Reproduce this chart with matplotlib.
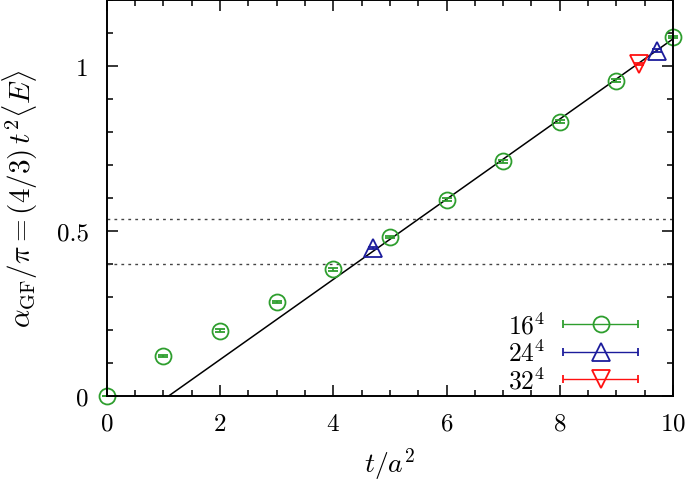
import numpy as np
import matplotlib
matplotlib.use("Agg")
import matplotlib.pyplot as plt
from matplotlib.container import ErrorbarContainer
from matplotlib.legend_handler import HandlerErrorbar

plt.rcParams['font.family'] = 'cmr10'
plt.rcParams['mathtext.fontset'] = 'cm'
plt.rcParams['axes.unicode_minus'] = False
plt.rcParams['axes.formatter.use_mathtext'] = True

# data
t_16 = [0, 1, 2, 3, 4, 5, 6, 7, 8, 9, 10]
a_16 = [0.0, 0.121, 0.198, 0.284, 0.383, 0.481, 0.595, 0.711, 0.831, 0.955, 1.088]
e_16 = [0.0, 0.004, 0.004, 0.004, 0.004, 0.004, 0.004, 0.004, 0.004, 0.004, 0.004]

t_24 = [4.70, 9.72]
a_24 = [0.448, 1.046]
e_24 = [0.004, 0.004]

t_32 = [9.40]
a_32 = [1.006]
e_32 = [0.004]

# straight line and the two dotted levels
line_t0 = 1.095
line_slope = 0.1215
levels = [0.535, 0.40]

green = '#2e9e2e'
blue = '#1c1c9c'
red = '#ff1010'

fig = plt.figure(figsize=(6.85, 4.81), dpi=100)
ax = fig.add_axes([0.156, 0.175, 0.8265, 0.823])

for lv in levels:
    ax.axhline(lv, color='#444444', lw=1.0, ls=(0, (2, 3)))

tl = np.array([line_t0, 10.5])
ax.plot(tl, line_slope * (tl - line_t0), color='black', lw=1.1)

ax.errorbar(t_16, a_16, yerr=e_16, fmt='o', ms=11.5, mfc='none', mec=green, mew=1.3,
            ecolor=green, elinewidth=1.2, capsize=3.5, capthick=1.2, clip_on=False)
ax.errorbar(t_24, a_24, yerr=e_24, fmt='^', ms=12.5, mfc='none', mec=blue, mew=1.3,
            ecolor=blue, elinewidth=1.2, capsize=3.5, capthick=1.2, clip_on=False)
ax.errorbar(t_32, a_32, yerr=e_32, fmt='v', ms=12.5, mfc='none', mec=red, mew=1.3,
            ecolor=red, elinewidth=1.2, capsize=3.5, capthick=1.2, clip_on=False)

# legend keys in the gnuplot style: horizontal bar with caps
nan = [np.nan]
h16 = ax.errorbar(nan, nan, xerr=[1], fmt='o', ms=11.5, mfc='none', mec=green, mew=1.3,
                  ecolor=green, elinewidth=1.0, capsize=3, capthick=1.0)
h24 = ax.errorbar(nan, nan, xerr=[1], fmt='^', ms=12.5, mfc='none', mec=blue, mew=1.3,
                  ecolor=blue, elinewidth=1.0, capsize=3, capthick=1.0)
h32 = ax.errorbar(nan, nan, xerr=[1], fmt='v', ms=12.5, mfc='none', mec=red, mew=1.3,
                  ecolor=red, elinewidth=1.0, capsize=3, capthick=1.0)
ax.legend([h16, h24, h32], [r'$16^4$', r'$24^4$', r'$32^4$'],
          handler_map={ErrorbarContainer: HandlerErrorbar(xerr_size=1.45)},
          loc='lower right', bbox_to_anchor=(0.965, -0.032), frameon=False,
          markerfirst=False, handlelength=2.9, handletextpad=0.7,
          labelspacing=0.04, fontsize=18.5, borderaxespad=0.2)

ax.set_xlim(0, 10)
ax.set_ylim(0, 1.2)
ax.set_xticks([0, 2, 4, 6, 8, 10])
ax.set_xticks(np.arange(0, 10.01, 0.5), minor=True)
ax.set_yticks([0, 0.5, 1])
ax.set_yticklabels(['0', '0.5', '1'])
ax.set_yticks(np.arange(0, 1.21, 0.1), minor=True)
ax.tick_params(which='both', direction='in', top=True, right=True, labelsize=18)
ax.tick_params(axis='x', pad=12)
ax.tick_params(axis='y', pad=13)
ax.tick_params(which='major', length=8, width=1.1)
ax.tick_params(which='minor', length=4.5, width=1.1)
for s in ax.spines.values():
    s.set_linewidth(1.4)

ax.set_xlabel(r'$t/a^2$', fontsize=20, labelpad=8)
ax.set_ylabel(r'$\alpha_{\rm GF}/\pi = (4/3)\,t^2\langle E\rangle$', fontsize=21, labelpad=12)

fig.savefig('out.png', dpi=100)
